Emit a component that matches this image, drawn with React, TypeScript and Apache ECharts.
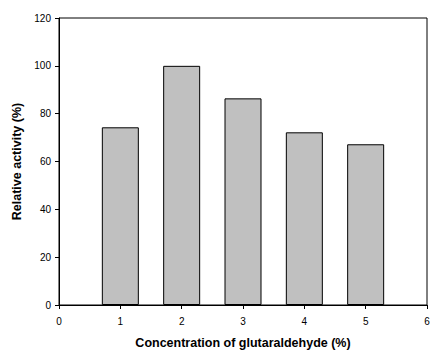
import React, { useEffect, useRef } from "react";
import * as echarts from "echarts";

const concentrations = [1, 2, 3, 4, 5];
const activity = [74.3, 100, 86.4, 72.2, 67.2];
const xTicks = [0, 1, 2, 3, 4, 5, 6];
const yTicks = [0, 20, 40, 60, 80, 100, 120];

export default function App() {
  const ref = useRef<HTMLDivElement>(null);
  useEffect(() => {
    if (!ref.current) return;
    const chart = echarts.init(ref.current, undefined, { renderer: "svg" });
    const font = "'Liberation Sans', Arial, sans-serif";
    chart.setOption({
      animation: false,
      grid: {
        left: 59,
        top: 18,
        right: 6,
        bottom: 46,
        outerBoundsMode: "none",
        containLabel: false,
        show: true,
        borderColor: "#000",
        borderWidth: 1,
        backgroundColor: "#fff",
      },
      xAxis: {
        type: "value",
        min: xTicks[0],
        max: xTicks[xTicks.length - 1],
        interval: 1,
        name: "Concentration of glutaraldehyde (%)",
        nameLocation: "middle",
        nameGap: 31,
        nameTextStyle: { fontFamily: font, fontWeight: "bold", fontSize: 12.5, color: "#000" },
        axisLine: { show: true, lineStyle: { color: "#000", width: 1 } },
        axisTick: { show: true, length: 4, lineStyle: { color: "#000" } },
        axisLabel: { fontFamily: font, fontSize: 10, color: "#000", margin: 11 },
        splitLine: { show: false },
      },
      yAxis: {
        type: "value",
        min: yTicks[0],
        max: yTicks[yTicks.length - 1],
        interval: 20,
        name: "Relative activity (%)",
        nameLocation: "middle",
        nameGap: 35,
        nameTextStyle: { fontFamily: font, fontWeight: "bold", fontSize: 12.5, color: "#000" },
        axisLine: { show: true, lineStyle: { color: "#000", width: 1 } },
        axisTick: { show: true, length: 4, lineStyle: { color: "#000" } },
        axisLabel: { fontFamily: font, fontSize: 10, color: "#000", margin: 8 },
        splitLine: { show: false },
      },
      series: [
        {
          type: "bar",
          data: concentrations.map((c, i) => [c, activity[i]]),
          barWidth: 37,
          itemStyle: { color: "#c0c0c0", borderColor: "#000", borderWidth: 1 },
        },
      ],
    });
    return () => chart.dispose();
  }, []);
  return (
    <div
      ref={ref}
      style={{ position: "absolute", left: 0, top: 0, width: 433, height: 351 }}
    />
  );
}
